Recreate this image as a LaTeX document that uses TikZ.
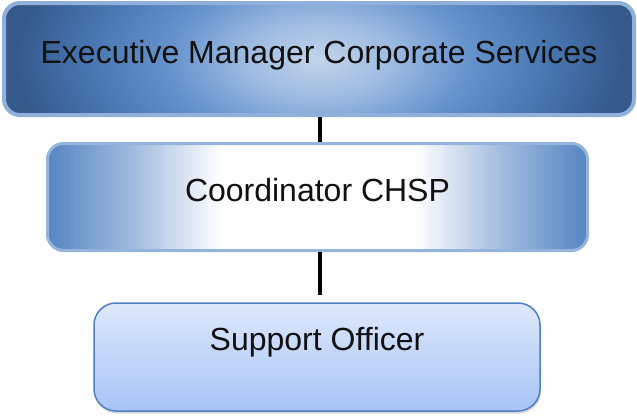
\documentclass[tikz,border=0pt]{standalone}
\usepackage{fontspec}
\setmainfont{Liberation Sans}
\usetikzlibrary{calc,shadows}

% palette
\definecolor{exA}{HTML}{C2D4EB}
\definecolor{exB}{HTML}{9CBAE1}
\definecolor{exC}{HTML}{6592CC}
\definecolor{exD}{HTML}{4977B2}
\definecolor{exE}{HTML}{365A8C}
\definecolor{exF}{HTML}{2F4F7E}
\definecolor{exRim}{HTML}{8FB0DA}
\definecolor{coEdge}{HTML}{5585C2}
\definecolor{coMid}{HTML}{A2BCDF}
\definecolor{coRim}{HTML}{95B4DC}
\definecolor{soTop}{HTML}{DDE8FB}
\definecolor{soBot}{HTML}{A8C4F6}
\definecolor{soRim}{HTML}{4F7FC0}
\definecolor{ink}{HTML}{111111}

% elliptical glow for the top box
\pgfdeclareradialshading{execshade}{\pgfpoint{0bp}{0bp}}{%
  color(0bp)=(exA); color(6bp)=(exB); color(12bp)=(exC);
  color(18bp)=(exD); color(24bp)=(exE); color(50bp)=(exF)}
% white band across the middle box
\pgfdeclarehorizontalshading{coordshade}{100bp}{%
  color(0bp)=(coEdge); color(25bp)=(coEdge); color(33bp)=(coMid);
  color(41bp)=(white); color(59bp)=(white); color(67bp)=(coMid);
  color(75bp)=(coEdge); color(100bp)=(coEdge)}

\tikzset{
  orgbox/.style={rounded corners=16pt, inner sep=0pt, font=\fontsize{32}{38}\selectfont,
    text=ink, align=center},
  execbox/.style={orgbox, draw=exRim, line width=4pt,
    minimum width=630pt, minimum height=112pt, text height=24pt, text depth=16pt,
    path picture={\shade[shading=execshade]
      ($(path picture bounding box.north west)+(0,-112)$) rectangle
      ($(path picture bounding box.south east)+(0,112)$);}},
  coordbox/.style={orgbox, draw=coRim, line width=3pt, shading=coordshade,
    minimum width=540pt, minimum height=107pt, text height=24pt, text depth=16pt},
  supportbox/.style={orgbox, rounded corners=22pt, draw=soRim, line width=1.5pt,
    top color=soTop, bottom color=soBot,
    drop shadow={shadow xshift=1pt, shadow yshift=-2.5pt, opacity=0.3},
    minimum width=446pt, minimum height=108pt, text height=23pt, text depth=37pt},
  link/.style={draw=black, line width=3.5pt}
}

\begin{document}
\begin{tikzpicture}[x=1pt, y=-1pt]
  \useasboundingbox (0,0) rectangle (637,415);

  \node[execbox]    (exec)    at (319,59)    {Executive Manager Corporate Services};
  \node[coordbox]   (coord)   at (317.5,197) {Coordinator CHSP};
  \node[supportbox] (support) at (317,357)   {Support Officer};

  \draw[link] ([xshift=1pt]exec.south) -- ([xshift=1pt]exec.south |- coord.north);
  \draw[link] ([xshift=2.5pt]coord.south) -- ([xshift=2.5pt,yshift=7pt]coord.south |- support.north);
\end{tikzpicture}
\end{document}
